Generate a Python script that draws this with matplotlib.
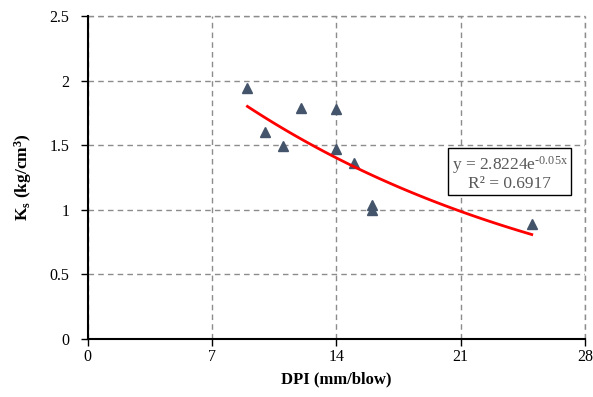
import numpy as np
import matplotlib
matplotlib.use("Agg")
import matplotlib.pyplot as plt

# data
dpi_vals = [9, 10, 11, 12, 14, 14, 15, 16, 16, 25]
ks_vals = [1.94, 1.60, 1.49, 1.79, 1.78, 1.47, 1.36, 1.04, 1.00, 0.89]
fit_a = 2.8224
fit_b = -0.05
x_ticks = [0, 7, 14, 21, 28]
y_ticks = [0, 0.5, 1, 1.5, 2, 2.5]

plt.rcParams["font.family"] = ["Liberation Serif", "DejaVu Serif"]
plt.rcParams["mathtext.fontset"] = "custom"
plt.rcParams["mathtext.rm"] = "Liberation Serif"
plt.rcParams["mathtext.it"] = "Liberation Serif:italic"
plt.rcParams["mathtext.bf"] = "Liberation Serif:bold"

fig = plt.figure(figsize=(5.93, 3.97), dpi=100)
ax = fig.add_axes([0.1476, 0.146, 0.839, 0.814])

ax.set_xlim(0, 28)
ax.set_ylim(0, 2.5)
ax.set_xticks(x_ticks)
ax.set_yticks(y_ticks)
ax.set_yticklabels(["0", "0.5", "1", "1.5", "2", "2.5"])
ax.tick_params(labelsize=11.5, direction="out", length=5, width=1, colors="black")
ax.tick_params(axis="y", pad=8)
ax.tick_params(axis="x", pad=2)

ax.grid(True, color="#8c8c8c", linestyle=(0, (4, 3)), linewidth=1)
ax.set_axisbelow(True)
for s in ["top", "right"]:
    ax.spines[s].set_visible(False)
for s in ["left", "bottom"]:
    ax.spines[s].set_linewidth(1.5)
# dashed border at top and right, like the grid
ax.axhline(2.5, color="#8c8c8c", linestyle=(0, (4, 3)), linewidth=1, clip_on=False)
ax.axvline(28, color="#8c8c8c", linestyle=(0, (4, 3)), linewidth=1, clip_on=False)

ax.plot(dpi_vals, ks_vals, linestyle="none", marker="^", markersize=7,
        color="#44546A", zorder=3)

xf = np.linspace(min(dpi_vals), max(dpi_vals), 100)
ax.plot(xf, fit_a * np.exp(fit_b * xf), color="#FF0000", linewidth=2, zorder=4)

ax.text(0.849, 0.515, "y = 2.8224e$^{\\mathrm{\u20100.05x}}$\nR² = 0.6917",
        transform=ax.transAxes, ha="center", va="center", fontsize=12.5,
        color="#595959", multialignment="center", linespacing=1.0,
        bbox=dict(boxstyle="square,pad=0.2", fc="white", ec="black", lw=1),
        zorder=5)

ax.set_xlabel("DPI (mm/blow)", fontsize=12, fontweight="bold", labelpad=5)
ax.set_ylabel("K$_{\\mathbf{s}}$ (kg/cm$^{\\mathbf{3}}$)", fontsize=12.5,
              fontweight="bold", labelpad=11)

fig.savefig("out.png", dpi=100)
